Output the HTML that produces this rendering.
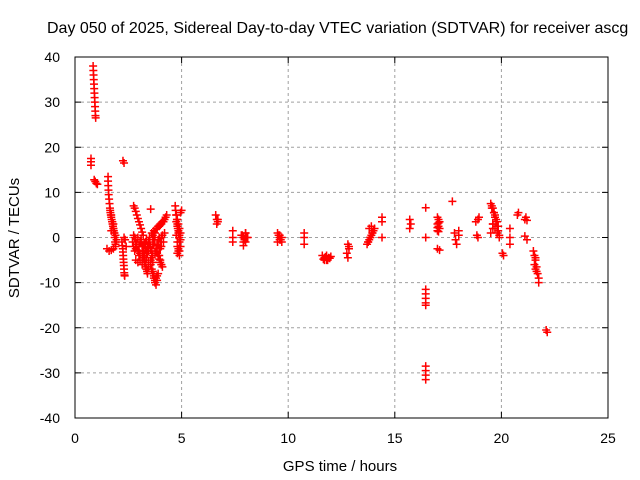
<!DOCTYPE html>
<html><head><meta charset="utf-8"><style>
body{margin:0;background:#fff;}
svg{display:block;font-family:"Liberation Sans",sans-serif;}
</style></head><body>
<svg id="chart" width="640" height="480">
<text x="47" y="33" font-size="16" text-anchor="start">Day 050 of 2025, Sidereal Day-to-day VTEC variation (SDTVAR) for receiver ascg</text>
<text x="340" y="471" font-size="15" text-anchor="middle">GPS time / hours</text>
<text transform="translate(19,238) rotate(-90)" font-size="15" text-anchor="middle">SDTVAR / TECUs</text>
<g id="grid"></g><g id="ticks"></g><g id="marks"></g>
<rect x="75" y="57" width="533" height="361" fill="none" stroke="#000" stroke-width="1"/>
</svg>
<script>
const xTicks=[0,5,10,15,20,25];
const yTicks=[40,30,20,10,0,-10,-20,-30,-40];
const hours=[
0.85,0.86,0.87,0.88,0.89,0.9,0.91,0.92,0.93,0.94,0.95,0.96,0.97,
0.75,0.75,0.75, 0.9,0.95,1.0,1.05, 2.25,2.3,
1.55,1.55,1.56,1.57,1.58,1.6,1.62,1.64,1.66,1.68,1.7,1.72,1.74,1.76,1.78,1.8,1.82,1.84,1.86,1.88,1.9,1.5,1.6,1.7,1.8,
1.65,1.7,1.75,1.8,1.85,1.9,1.95,1.7,1.8,1.9,
2.2,2.22,2.24,2.25,2.26,2.27,2.28,2.29,2.3,2.31,2.32,2.33,2.3,2.35,2.4,
2.75,2.8,2.85,2.9,2.95,3.0,3.05,3.1,3.15,3.2,
2.7,2.8,2.9,3.0,3.1,3.2,3.3,3.4,3.5,3.6,3.7,3.8,3.9,4.0,4.1,4.2,
2.8,3.0,3.2,3.4,3.6,3.8,4.0,2.9,3.1,3.3,3.5,3.7,3.9,
2.75,2.85,2.95,3.05,3.15,3.25,3.35,3.45,3.55,3.65,3.75,3.85,3.95,4.05,
2.75,2.85,2.95,3.05,3.15,3.25,3.35,3.45,3.55,3.65,3.75,3.85,3.95,4.05,4.15,
2.85,2.95,3.05,3.15,3.25,3.35,3.45,3.55,3.65,
3.2,3.22,3.25,3.28,3.3,3.32,3.35,3.38,3.4,3.25,3.3,3.35,3.4,3.45,
3.55,3.6,3.65,3.7,3.75,3.8,3.85,3.9,3.65,3.7,3.75,3.8,3.85,
3.85,3.9,3.95,4.0,4.05,4.1,3.95,4.0,4.05,
3.5,3.6,3.7,3.8,3.9,4.0,4.1,4.2,4.3,3.55,3.65,3.75,3.85,3.95,4.05,4.15,4.25,
4.7,4.72,4.75,4.78,4.8,4.82,4.85,4.88,4.9,4.8,4.85,4.9,4.95,4.75,4.8,4.95,5.0,
4.75,4.8,4.85,4.9,4.95,4.75,4.8,4.85,4.9,4.95,4.8,4.85,4.9,
6.6,6.65,6.7,6.65,6.7,
7.4,7.4,7.4,7.8,7.9,8.0,8.1,7.9,8.0,7.85,7.95,8.05,8.0,7.9,
9.5,9.6,9.7,9.6,9.5,9.7,9.55,9.65,9.6,
10.75,10.75,10.75,
11.6,11.7,11.8,11.9,12.0,11.8,11.7,11.65,11.75,11.85,11.95,
12.8,12.85,12.75,12.8,12.85,
13.7,13.75,13.8,13.85,13.9,13.95,14.0,14.05,13.8,13.9,13.75,13.85,13.95,
14.4,14.4,14.4, 15.7,15.75,15.7,
16.45,16.45,16.45,16.45,16.45,16.45,16.45,16.45,16.45,16.45,16.45,
17.0,17.05,17.1,17.0,17.05,17.1,17.0,17.05,17.0,17.1,17.05,17.0,
17.7,17.8,17.85,17.9,18.0,18.0,
18.8,18.9,18.95,18.85,18.9,
19.5,19.55,19.6,19.65,19.7,19.75,19.8,19.85,19.9,19.6,19.7,19.8,19.9,19.5,19.6,
19.55,19.65,19.75,19.85,19.7,19.8,19.6,
20.05,20.1,20.4,20.4,20.4,
20.8,20.75,21.1,21.15,21.2,21.1,21.2,
21.5,21.55,21.6,21.55,21.6,21.65,21.7,21.75,21.75,21.6,21.65,
22.1,22.15];
const sdtvar=[
38,37,36,35,34,33,32,31,30,29,28,27,26.5,
17.5,16.8,16, 12.8,12.4,12,11.8, 17,16.5,
13.5,12.5,11.5,10.5,9.5,8.5,7.5,6.5,5.5,5,4.5,4,3.5,3,2.5,2,1.5,1,0,-1,-2,-2.5,-3,-2.8,-2.5,
6,5,3.5,2,1,0.5,-0.5,1.5,3,-1.5,
-1,-1.8,-2.5,-3.2,-4,-4.8,-5.5,-6.2,-7,-7.8,-8.3,-8.5,0,-0.5,-2,
7,6.5,5.8,5,4.2,3.5,2.8,2,1.2,0.5,
-1,0,-1.5,-2,-0.5,-3,-1,-2,0,-3,-1.5,-2.5,-0.5,-1,0.5,1,
-3,-4,-4.5,-3.5,-4.5,-3,-2.5,-2,-1,-2.5,-1.5,-0.5,-1.8,
0.5,-0.5,0,-1,-2,-1.5,-0.5,-1,-2,-1.5,-0.5,-1.5,0,0,
-2,-2.5,-3,-3.5,-4,-4,-3,-3,-2.5,-4,-3.5,-1.5,-2.5,-2,-1,
-5,-5.5,-5,-6,-5.5,-4.5,-5.5,-5,-5.5,
-2,-3,-4,-5,-6,-6.5,-7,-7.5,-8,-4.5,-6,-7,-7.5,-6.5,
-6,-7,-8,-9,-10,-10.5,-9.5,-8,-7.5,-8.5,-9.5,-9,-8.5,
-3.5,-4,-4.8,-5.5,-6,-6.5,-4,-5,-6,
0,1,1.5,2,2.5,3,3.5,4,5,6.3,0.5,1,2,2.5,3,3.5,4.5,
7,6,5,4,3,2,1,0,-1,-2,-3,-4,-2,0.5,-3.5,5.5,6,
5,4,3,2,1,3.5,2.5,1.5,0.5,-0.5,-1,-2.5,-3,
5,4,3.5,3,4,
1.5,0,-1,0.5,0,-1,0,-1.8,1,0.5,-0.5,0,1,-1,
1,0.5,0,-0.5,-1,-1,0.5,-0.5,0,
1,0,-1.5,
-4,-4.5,-5,-4.5,-4.2,-4,-5,-4.8,-4.3,-5,-4.6,
-1.5,-2.5,-3.5,-4.5,-2,
-1.5,-1,-0.5,0,0.5,1,1.5,2,2,2.5,-1,0,1,
4.5,3.5,0, 4,3,2,
6.6,0,-11.5,-12.5,-13.5,-14.5,-15,-28.5,-29.5,-30.5,-31.5,
4.5,4,3.5,3,2.5,2,1.5,1.3,-2.5,-2.8,3.2,2.2,
8,1,-0.5,-1.5,0.5,1.5,
3.5,4,4.5,0.5,0,
7.5,7,6.5,5.5,4.5,3.5,2.5,1.5,0.5,3,2,1,0,1,3,
6.5,5.5,4,2.5,5,3.5,2,
-3.5,-4,2,0,-1.5,
5.5,5,4,4.5,3.8,0.3,-0.5,
-3,-4,-5,-6,-7,-7.5,-8,-9,-10,-4.5,-6.5,
-20.5,-21];
const NS="http://www.w3.org/2000/svg";
const X=t=>75+t*533/25, Y=v=>237.5-v*361/80;
const grid=document.getElementById('grid'),ticks=document.getElementById('ticks'),marks=document.getElementById('marks'),svg=document.getElementById('chart');
function mk(tag,a,p){const e=document.createElementNS(NS,tag);for(const k in a)e.setAttribute(k,a[k]);p.appendChild(e);return e;}
xTicks.forEach(t=>{const x=X(t);
 if(t>0&&t<25){const g=mk('line',{x1:x,x2:x,y1:57,y2:418,stroke:'#a0a0a0','stroke-dasharray':'3,3'},grid);
 
 }
 mk('line',{x1:x,x2:x,y1:418,y2:412,stroke:'#000'},ticks);
 mk('line',{x1:x,x2:x,y1:57,y2:63,stroke:'#000'},ticks);
 const l=mk('text',{x:x,y:443,'font-size':14,'text-anchor':'middle'},svg);l.textContent=t;
 
 });
yTicks.forEach(v=>{const y=Y(v);
 if(v>-40&&v<40){const g=mk('line',{x1:75,x2:608,y1:y,y2:y,stroke:'#a0a0a0','stroke-dasharray':'3,3'},grid);
 
 }
 mk('line',{x1:75,x2:81,y1:y,y2:y,stroke:'#000'},ticks);
 mk('line',{x1:608,x2:602,y1:y,y2:y,stroke:'#000'},ticks);
 const l=mk('text',{x:60,y:y+5,'font-size':14,'text-anchor':'end'},svg);l.textContent=v;
 
 });
hours.forEach((t,i)=>{const x=X(t),y=Y(sdtvar[i]);
 const p=mk('path',{d:`M${x-4},${y}h8M${x},${y-4}v8`,stroke:'#f00','stroke-width':1.5,fill:'none'},marks);
 
 });
</script>
</body></html>
